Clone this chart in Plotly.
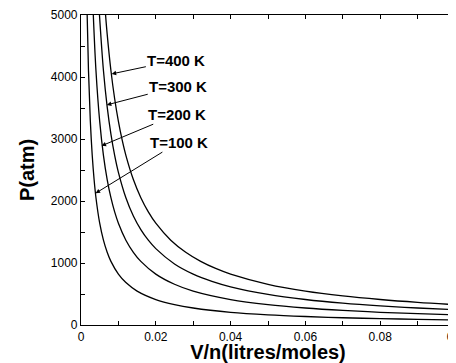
import plotly.graph_objects as go

# Data (P in atm vs molar volume V/n in L/mol)
x_100 = [0.0016, 0.002, 0.0025, 0.003, 0.0035, 0.004, 0.005, 0.006, 0.007, 0.008, 0.01, 0.012,
         0.015, 0.02, 0.025, 0.03, 0.04, 0.05, 0.06, 0.07, 0.08, 0.09, 0.1]
p_100 = [5131, 4105, 3284, 2737, 2346, 2053, 1642, 1368, 1173, 1026, 821, 684,
         547, 411, 328, 274, 205, 164, 137, 117, 103, 91, 82]

x_200 = [0.0032, 0.004, 0.005, 0.006, 0.007, 0.008, 0.009, 0.01, 0.012, 0.014, 0.016, 0.02,
         0.025, 0.03, 0.04, 0.05, 0.06, 0.07, 0.08, 0.09, 0.1]
p_200 = [5131, 4105, 3284, 2737, 2346, 2053, 1824, 1642, 1368, 1173, 1026, 821,
         657, 547, 411, 328, 274, 235, 205, 182, 164]

x_300 = [0.0048, 0.006, 0.007, 0.008, 0.009, 0.01, 0.012, 0.014, 0.016, 0.018, 0.02, 0.025,
         0.03, 0.035, 0.04, 0.05, 0.06, 0.07, 0.08, 0.09, 0.1]
p_300 = [5131, 4105, 3519, 3079, 2737, 2463, 2053, 1759, 1539, 1368, 1232, 985,
         821, 704, 616, 493, 411, 352, 308, 274, 246]

x_400 = [0.0064, 0.007, 0.008, 0.009, 0.01, 0.011, 0.012, 0.014, 0.016, 0.018, 0.02, 0.024,
         0.028, 0.032, 0.036, 0.04, 0.05, 0.06, 0.07, 0.08, 0.09, 0.1]
p_400 = [5131, 4691, 4105, 3649, 3284, 2985, 2737, 2346, 2053, 1824, 1642, 1368,
         1173, 1026, 912, 821, 657, 547, 469, 411, 365, 328]

labels = ["T=400 K", "T=300 K", "T=200 K", "T=100 K"]
# arrow head positions (data)
head_x = [0.0082, 0.0069, 0.0055, 0.0039]
head_y = [4050, 3550, 2890, 2125]
# label centre positions (data)
text_x = [0.0255, 0.0260, 0.0257, 0.0261]
text_y = [4270, 3850, 3400, 2950]

series = [(x_100, p_100), (x_200, p_200), (x_300, p_300), (x_400, p_400)]

FONT = "Liberation Sans, Arial"

fig = go.Figure()
for xs, ps in series:
    fig.add_trace(go.Scatter(x=xs, y=ps, mode="lines",
                             line=dict(color="black", width=1.3, shape="spline"),
                             showlegend=False, hoverinfo="skip"))

for lab, hx, hy, tx, ty in zip(labels, head_x, head_y, text_x, text_y):
    fig.add_annotation(x=hx, y=hy, ax=tx, ay=ty, xref="x", yref="y",
                       axref="x", ayref="y", text="<b>%s</b>" % lab,
                       showarrow=True, arrowhead=2, arrowsize=0.9, arrowwidth=1,
                       arrowcolor="black", standoff=0, startstandoff=0,
                       font=dict(family=FONT, size=15, color="black"))

axis_common = dict(showline=True, linecolor="black", linewidth=1.2, mirror="ticks",
                   ticks="inside", ticklen=4, tickcolor="black", tickwidth=1,
                   showgrid=False, zeroline=False, automargin=False,
                   tickfont=dict(family=FONT, size=12, color="black"))

fig.update_xaxes(range=[0, 0.1], dtick=0.02, tick0=0, ticklabeloverflow="allow",
                 minor=dict(dtick=0.01, ticks="inside", ticklen=4, tickcolor="black"),
                 title=dict(text="<b>V/n(litres/moles)</b>", standoff=0,
                            font=dict(family=FONT, size=20, color="black")),
                 **axis_common)
fig.update_yaxes(range=[0, 5000], dtick=1000, tick0=0,
                 minor=dict(dtick=500, ticks="inside", ticklen=4, tickcolor="black"),
                 title=dict(text="<b>P(atm)</b>", standoff=10,
                            font=dict(family=FONT, size=20, color="black")),
                 **axis_common)

fig.update_layout(width=448, height=355, margin=dict(l=73, r=1, t=7, b=38, autoexpand=False),
                  plot_bgcolor="white", paper_bgcolor="white")

fig.write_html("out.html")
